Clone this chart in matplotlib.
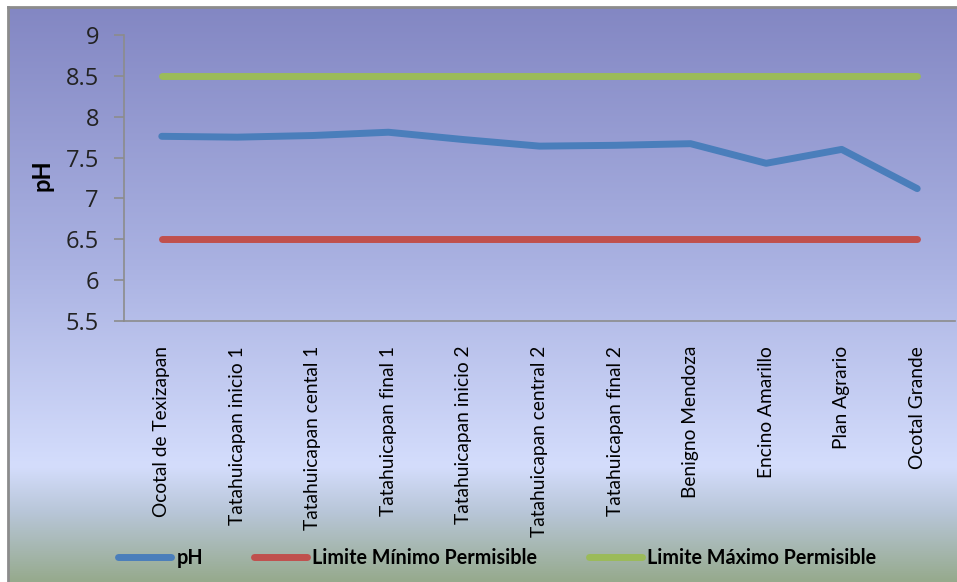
import numpy as np
import matplotlib.pyplot as plt
from matplotlib.colors import LinearSegmentedColormap

sitios = ["Ocotal de Texizapan", "Tatahuicapan inicio 1", "Tatahuicapan cental 1",
          "Tatahuicapan final 1", "Tatahuicapan inicio 2", "Tatahuicapan central 2",
          "Tatahuicapan final 2", "Benigno Mendoza", "Encino Amarillo",
          "Plan Agrario", "Ocotal Grande"]
ph = [7.76, 7.75, 7.77, 7.81, 7.72, 7.64, 7.65, 7.67, 7.43, 7.60, 7.12]
lim_min = [6.5] * len(sitios)
lim_max = [8.5] * len(sitios)
yticks = [5.5, 6, 6.5, 7, 7.5, 8, 8.5, 9]

W, H = 957, 582
fig = plt.figure(figsize=(W / 100, H / 100), dpi=100, facecolor="white")

# chart area background with vertical gradient and grey frame
bg = fig.add_axes([8 / W, 0, 1 - 8 / W, 1 - 7 / H])
grad = LinearSegmentedColormap.from_list(
    "fondo", [(0.0, "#8387c3"), (0.45, "#aab2e2"), (0.8, "#d4ddfc"),
              (0.88, "#b8c6d8"), (1.0, "#96aa8d")])
bg.imshow(np.linspace(0, 1, 256).reshape(-1, 1), aspect="auto", cmap=grad,
          extent=[0, 1, 0, 1], origin="upper")
bg.set_xlim(0, 1)
bg.set_ylim(0, 1)
bg.set_xticks([])
bg.set_yticks([])
for s in ["right", "bottom"]:
    bg.spines[s].set_visible(False)
for s in ["left", "top"]:
    bg.spines[s].set_color("#8c8c8c")
    bg.spines[s].set_linewidth(2)

ax = fig.add_axes([124 / W, 1 - 321 / H, (955 - 124) / W, (321 - 35) / H])
ax.patch.set_alpha(0)

x = np.arange(len(sitios))
kw = dict(linewidth=5, solid_capstyle="round", solid_joinstyle="round")
l1, = ax.plot(x, ph, color="#4a7ebb", label="pH", zorder=3, **kw)
l2, = ax.plot(x, lim_min, color="#c0504d", label="Limite Mínimo Permisible", **kw)
l3, = ax.plot(x, lim_max, color="#9bbb59", label="Limite Máximo Permisible", **kw)

ax.set_xlim(-0.5, len(sitios) - 0.5)
ax.set_ylim(5.5, 9)
ax.set_yticks(yticks)
ax.set_yticklabels([f"{v:g}" for v in yticks], fontsize=17, family="Open Sans",
                   color="#222222")
ax.set_xticks(x)
ax.set_xticklabels(sitios, rotation=90, fontsize=13.8, family="Lato",
                   va="top", ha="center")
ax.tick_params(axis="x", length=0, pad=18)
ax.tick_params(axis="y", length=7, width=1.2, color="#8c8c8c", pad=11)
for s in ["top", "right"]:
    ax.spines[s].set_visible(False)
for s in ["left", "bottom"]:
    ax.spines[s].set_color("#8c8c8c")
    ax.spines[s].set_linewidth(1.2)

fig.text(42 / W, 1 - 175 / H, "pH", rotation=90, fontsize=17, fontweight="bold",
         family="Lato", ha="center", va="center")

fig.legend(handles=[l1, l2, l3], loc="center", bbox_to_anchor=(497 / W, 1 - 558 / H),
           ncol=3, frameon=False, handlelength=2.7, handletextpad=0.25,
           columnspacing=2.6, prop={"family": "Lato", "weight": "bold", "size": 14.2})

fig.savefig("out.png", dpi=100, facecolor="white")
